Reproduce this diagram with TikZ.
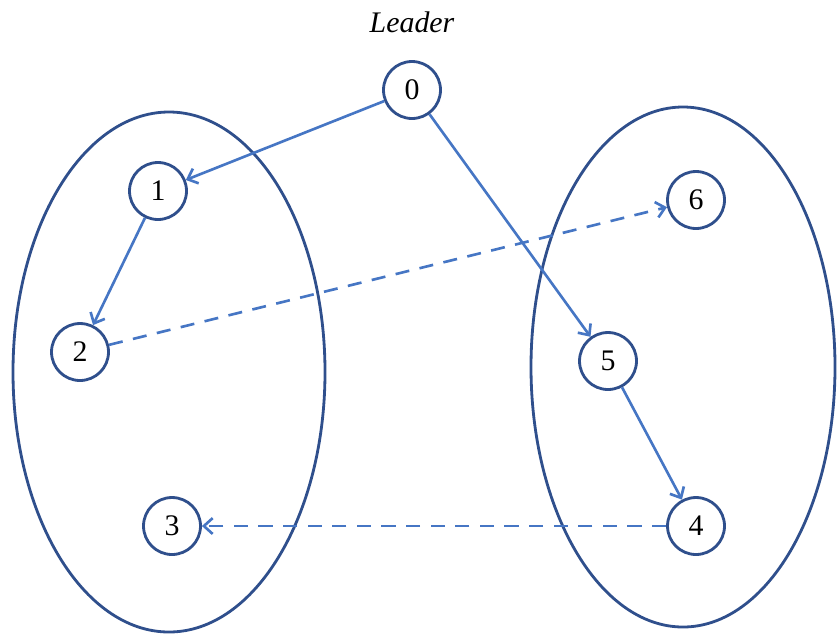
\documentclass[tikz,border=0pt]{standalone}
\usepackage{fontspec}
\setmainfont{Liberation Serif}
\usepackage{tikz}
\usetikzlibrary{arrows.meta, calc, positioning}

\definecolor{ringblue}{RGB}{47,79,140}
\definecolor{flowblue}{RGB}{70,118,196}

\begin{document}
\begin{tikzpicture}[x=0.02cm, y=-0.02cm]
            \tikzstyle{proc} = [circle, draw=ringblue, line width=1.6pt, fill=white,
                                minimum size=1.14cm, inner sep=0pt, font=\fontsize{17}{20}\selectfont]
            \tikzstyle{group} = [draw=ringblue, line width=1.6pt]
            \tikzstyle{flow} = [-{Straight Barb[length=5pt, width=9pt]}, draw=flowblue, line width=1.5pt]
            \tikzstyle{link} = [flow, dashed, dash pattern=on 8pt off 6pt]

            \useasboundingbox (0,0) rectangle (837,637);

            % the two groups
            \draw [group] (169,372) ellipse [x radius=156, y radius=260];
            \draw [group] (683,367) ellipse [x radius=152, y radius=260];

            \node (ldr) at (412,22) {\fontsize{17}{20}\selectfont\itshape Leader};
            \node (p0) [proc] at (412,90)  {0};
            \node (p1) [proc] at (158,191) {1};
            \node (p2) [proc] at (80,352)  {2};
            \node (p3) [proc] at (172,526) {3};
            \node (p4) [proc] at (696,526) {4};
            \node (p5) [proc] at (608,361) {5};
            \node (p6) [proc] at (696,200) {6};

            \draw [flow] (p0) -- (p1);
            \draw [flow] (p1) -- (p2);
            \draw [flow] (p0) -- (p5);
            \draw [flow] (p5) -- (p4);
            \draw [link] (p2) -- (p6);
            \draw [link] (p4) -- (p3);
        \end{tikzpicture}
\end{document}
